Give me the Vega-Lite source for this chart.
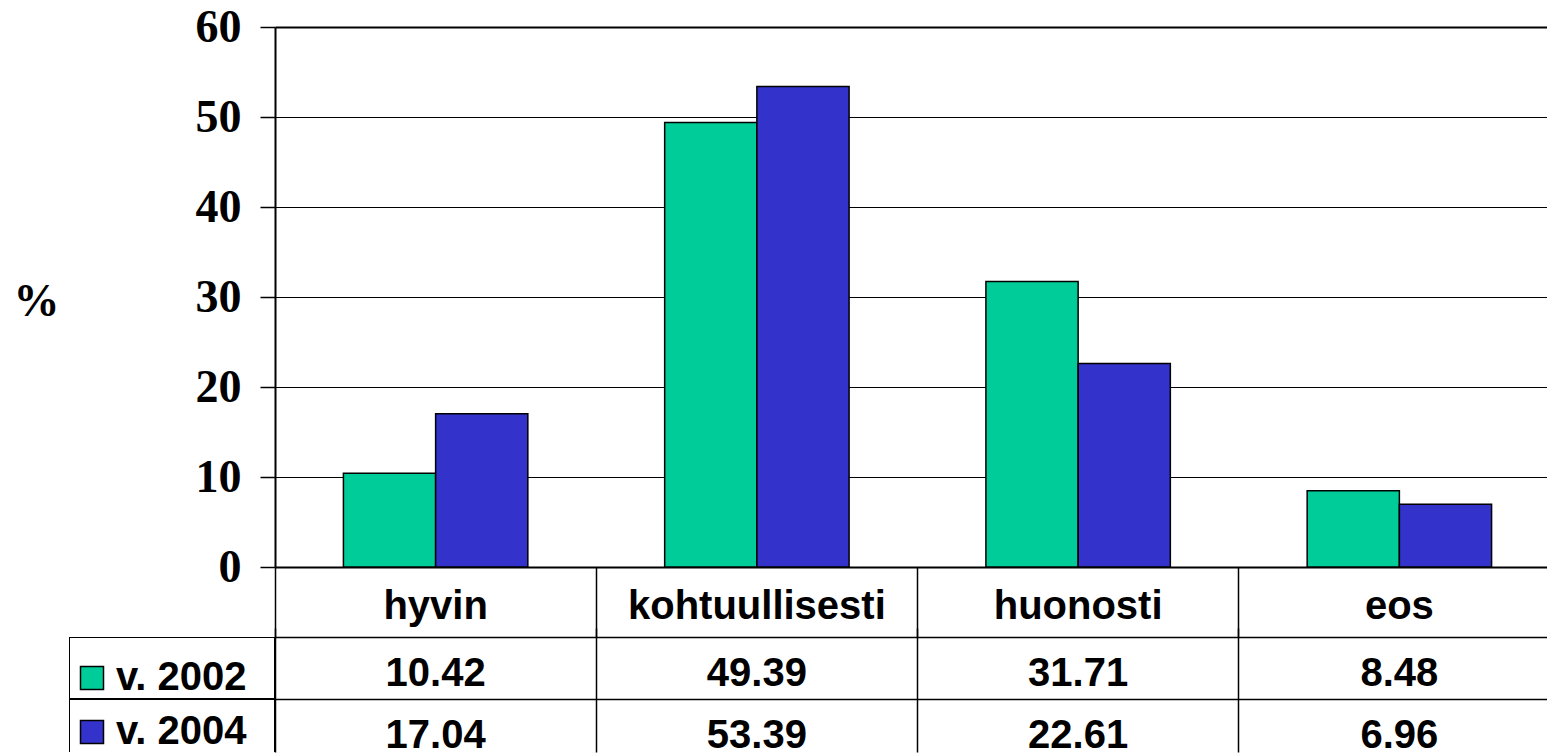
{
  "$schema": "https://vega.github.io/schema/vega-lite/v6.json",
  "padding": {"left": 13, "top": 4, "right": 0, "bottom": 0},
  "background": "white",
  "config": {"view": {"stroke": null}, "font": "Liberation Sans"},
  "columns": 2,
  "spacing": {"row": 70, "column": 0},
  "bounds": "flush",
  "datasets": {
    "survey": [
      {"cat": "hyvin", "year": "v. 2002", "value": 10.42},
      {"cat": "hyvin", "year": "v. 2004", "value": 17.04},
      {"cat": "kohtuullisesti", "year": "v. 2002", "value": 49.39},
      {"cat": "kohtuullisesti", "year": "v. 2004", "value": 53.39},
      {"cat": "huonosti", "year": "v. 2002", "value": 31.71},
      {"cat": "huonosti", "year": "v. 2004", "value": 22.61},
      {"cat": "eos", "year": "v. 2002", "value": 8.48},
      {"cat": "eos", "year": "v. 2004", "value": 6.96}
    ],
    "years": [{"year": "v. 2002"}, {"year": "v. 2004"}],
    "empty": []
  },
  "concat": [
    {
      "width": 206,
      "height": 540,
      "data": {"name": "empty"},
      "mark": "point"
    },
    {
      "width": 1271,
      "height": 540,
      "data": {"name": "survey"},
      "mark": {"type": "bar", "stroke": "black", "strokeWidth": 1.5},
      "encoding": {
        "x": {
          "field": "cat",
          "type": "nominal",
          "scale": {"type": "band", "domain": ["hyvin", "kohtuullisesti", "huonosti", "eos"], "range": [0, 1285], "paddingInner": 0, "paddingOuter": 0},
          "axis": {
            "title": null,
            "orient": "bottom",
            "bandPosition": 0,
            "tickExtra": false,
            "domain": false,
            "grid": false,
            "ticks": true,
            "tickSize": 70,
            "tickColor": "black",
            "tickWidth": 1.5,
            "labelFont": "Liberation Sans",
            "labelFontSize": 40,
            "labelFontWeight": "bold",
            "labelColor": "black",
            "labelBaseline": "alphabetic",
            "labelPadding": -19,
            "labelAngle": 0,
            "labelLimit": 500
          }
        },
        "xOffset": {
          "field": "year",
          "type": "nominal",
          "scale": {"paddingInner": 0, "paddingOuter": 0.742}
        },
        "y": {
          "field": "value",
          "type": "quantitative",
          "scale": {"domain": [0, 60], "nice": false},
          "axis": {
            "values": [0, 10, 20, 30, 40, 50, 60],
            "title": "%",
            "titleFont": "Liberation Serif",
            "titleFontSize": 46,
            "titleFontWeight": "bold",
            "titleColor": "black",
            "titleAngle": 0,
            "titleAlign": "left",
            "titleBaseline": "middle",
            "titleX": -262,
            "titleY": 274,
            "labelFont": "Liberation Serif",
            "labelFontSize": 46,
            "labelFontWeight": "bold",
            "labelColor": "black",
            "labelPadding": 19,
            "tickSize": 15,
            "tickColor": "black",
            "tickWidth": 1.5,
            "domainColor": "black",
            "domainWidth": 2,
            "gridColor": "black",
            "gridWidth": {"condition": {"test": "datum.value == 0 || datum.value == 60", "value": 2}, "value": 1}
          }
        },
        "fill": {
          "field": "year",
          "type": "nominal",
          "scale": {"domain": ["v. 2002", "v. 2004"], "range": ["#00CC99", "#3333CC"]},
          "legend": {
            "orient": "none",
            "legendX": 3,
            "legendY": 631,
            "title": null,
            "symbolType": "square",
            "symbolSize": 529,
            "symbolStrokeColor": "black",
            "symbolStrokeWidth": 1.5,
            "symbolOpacity": 1,
            "labelFont": "Liberation Sans",
            "labelFontSize": 40,
            "labelFontWeight": "bold",
            "labelColor": "black",
            "labelOffset": 4,
            "rowPadding": 14,
            "padding": 0,
            "labelLimit": 400
          }
        }
      }
    },
    {
      "width": 206,
      "height": 115,
      "data": {"name": "years"},
      "mark": {"type": "rect", "fill": "transparent", "stroke": "black", "strokeWidth": 2, "clip": true},
      "encoding": {
        "y": {
          "field": "year",
          "type": "nominal",
          "scale": {"type": "band", "range": [0, 124], "paddingInner": 0, "paddingOuter": 0},
          "axis": null
        }
      }
    },
    {
      "width": 1271,
      "height": 115,
      "data": {"name": "survey"},
      "mark": {"type": "text", "font": "Liberation Sans", "fontSize": 40, "fontWeight": "bold", "baseline": "alphabetic", "color": "black", "clip": true},
      "encoding": {
        "x": {
          "field": "cat",
          "type": "nominal",
          "scale": {"type": "band", "domain": ["hyvin", "kohtuullisesti", "huonosti", "eos"], "range": [0, 1285], "paddingInner": 0, "paddingOuter": 0},
          "axis": {
            "title": null,
            "orient": "bottom",
            "grid": true,
            "bandPosition": 0,
            "tickExtra": false,
            "labels": false,
            "ticks": false,
            "domain": false,
            "gridColor": "black",
            "gridWidth": 1.5
          }
        },
        "y": {
          "field": "year",
          "type": "nominal",
          "bandPosition": 0.79,
          "scale": {"type": "band", "domain": ["v. 2002", "v. 2004"], "range": [0, 124], "paddingInner": 0, "paddingOuter": 0},
          "axis": {
            "title": null,
            "grid": true,
            "bandPosition": 0,
            "tickExtra": false,
            "labels": false,
            "ticks": false,
            "domain": false,
            "gridColor": "black",
            "gridWidth": 1.5
          }
        },
        "text": {"field": "value", "type": "quantitative", "format": ".2f"}
      }
    }
  ]
}
